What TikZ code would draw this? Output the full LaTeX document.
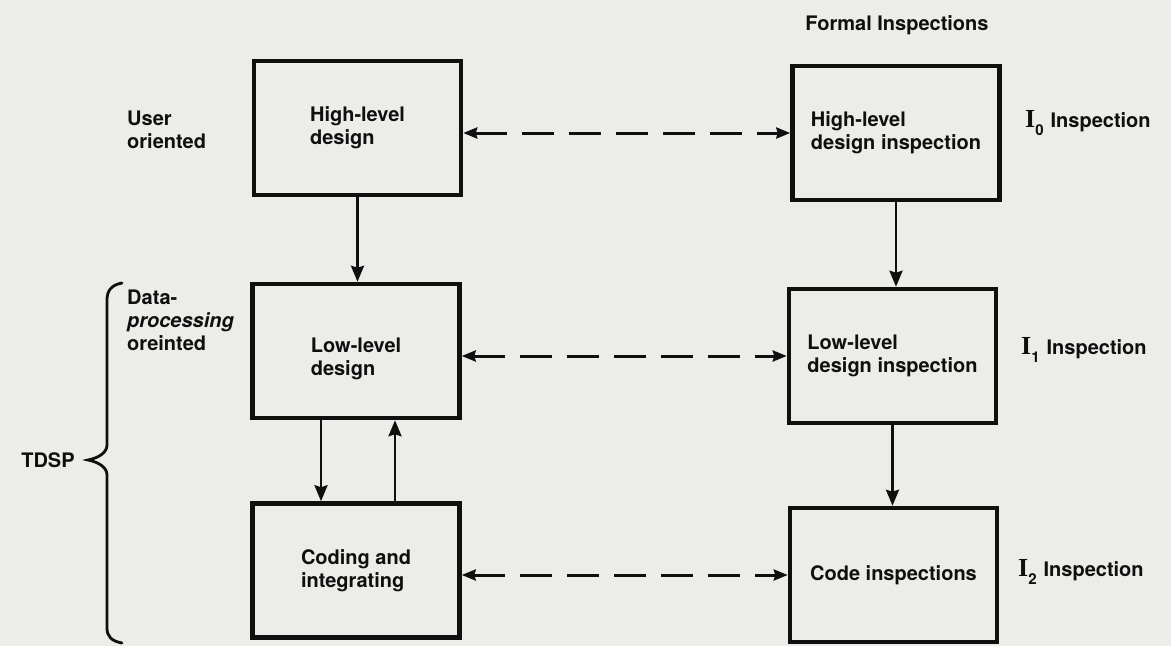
\documentclass[tikz,border=0pt]{standalone}
\usepackage{fontspec}
\setmainfont{TeX Gyre Heros}
\newfontfamily\serifI{Liberation Serif}
\usetikzlibrary{arrows.meta}
\definecolor{paper}{RGB}{236,236,233}
\definecolor{ink}{RGB}{15,15,15}
\newcommand{\stagelabel}[1]{{\serifI\fontsize{26}{26}\selectfont I}\raisebox{-8pt}{\fontsize{15}{15}\selectfont\bfseries #1}\hspace{7pt}Inspection}
\tikzset{
  txt/.style={font=\fontsize{20}{23}\selectfont\bfseries, text=ink, inner sep=0pt, align=left},
  stagebox/.style={txt, draw=ink, line width=4.5pt, minimum width=207pt, minimum height=134pt},
  flow/.style={draw=ink, line width=2.6pt, -{Stealth[length=16pt,width=13pt,inset=2pt]}},
  link/.style={draw=ink, line width=3pt, dash pattern=on 32pt off 15pt,
    {Stealth[length=14pt,width=11pt,inset=1.5pt]}-{Stealth[length=14pt,width=11pt,inset=1.5pt]}},
}
\begin{document}
\begin{tikzpicture}[x=1pt,y=-1pt]
  \fill[paper] (0,0) rectangle (1171,646);
  \useasboundingbox (0,0) rectangle (1171,646);

  % development activities
  \node[stagebox] (hld) at (357.5,128) {High-level\\design};
  \node[stagebox, label={[txt, yshift=-8pt]center:{Low-level\\design}}] (lld) at (356,351) {};
  \node[stagebox] (cod) at (356,570.5) {Coding and\\integrating};

  % matching inspections
  \node[stagebox] (hldi) at (896,133)   {High-level\\design inspection};
  \node[stagebox] (lldi) at (892.5,356) {Low-level\\design inspection};
  \node[stagebox] (codi) at (893.5,575) {Code inspections};

  % column and row labels
  \node[txt] (formal) at (897,25) {Formal Inspections};
  \node[txt, anchor=west] (user) at (127,130) {User\\oriented};
  \node[txt, anchor=west] (dpo) at (127,320) {Data-\\{\itshape processing}\\oreinted};
  \node[txt] (tdsp) at (48,460) {TDSP};
  \node[txt, anchor=west] (i0) at (1025,123) {\stagelabel{0}};
  \node[txt, anchor=west] (i1) at (1021,350) {\stagelabel{1}};
  \node[txt, anchor=west] (i2) at (1018,572) {\stagelabel{2}};

  % brace grouping the data-processing stages
  \draw[ink, line width=2.8pt, line cap=round]
    (122,283) .. controls (111,285) and (107,291) .. (107,300)
    -- (107,445) .. controls (107,453) and (98,458) .. (88,460)
    .. controls (98,462) and (107,467) .. (107,475)
    -- (107,628) .. controls (107,636) and (111,641) .. (122,643);

  % flow between stages
  \draw[flow] (hld.south) -- (hld.south |- lld.north);
  \draw[flow] ([xshift=-35pt]lld.south) -- ([xshift=-35pt]cod.north);
  \draw[flow] ([xshift=39pt]cod.north) -- ([xshift=39pt]lld.south);
  \draw[flow] (hldi.south) -- (hldi.south |- lldi.north);
  \draw[flow] (lldi.south) -- (lldi.south |- codi.north);

  % stage to inspection links
  \draw[link] (hld.east |- hldi.west) -- (hldi.west);
  \draw[link] (lld.east |- lldi.west) -- (lldi.west);
  \draw[link] (cod.east |- codi.west) -- (codi.west);
\end{tikzpicture}
\end{document}
